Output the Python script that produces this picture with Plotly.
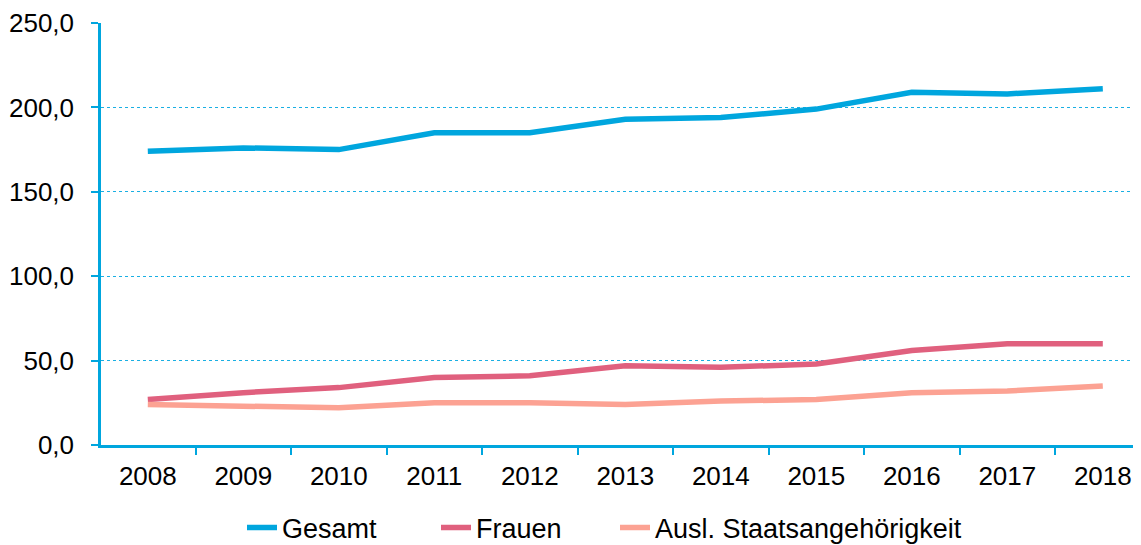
import plotly.graph_objects as go

years = ["2008", "2009", "2010", "2011", "2012", "2013", "2014", "2015", "2016", "2017", "2018"]
gesamt = [174, 176, 175, 185, 185, 193, 194, 199, 209, 208, 211]
frauen = [27, 31, 34, 40, 41, 47, 46, 48, 56, 60, 60]
ausl = [24, 23, 22, 25, 25, 24, 26, 27, 31, 32, 35]
y_ticks = [0, 50, 100, 150, 200, 250]

series = [
    ("Gesamt", gesamt, "#00A6DE", "legend", 234),
    ("Frauen", frauen, "#E0607E", "legend2", 428),
    ("Ausl. Staatsangehörigkeit", ausl, "#FCA293", "legend3", 607),
]

fig = go.Figure()
legends = {}
for name, vals, col, leg, lx in series:
    fig.add_trace(go.Scatter(x=years, y=vals, name=name, mode="lines", legend=leg,
                             line=dict(color=col, width=5.5)))
    legends[leg] = dict(orientation="h", xref="container", yref="container",
                        x=lx / 1141, xanchor="left", y=0.046, yanchor="middle",
                        font=dict(size=27), itemwidth=30, bgcolor="rgba(0,0,0,0)")

axis_col = "#00A6DE"
fig.update_layout(
    width=1141, height=545,
    margin=dict(l=93, r=8, t=15, b=108),
    paper_bgcolor="white", plot_bgcolor="white",
    font=dict(family="Liberation Sans, Arial, sans-serif", size=26, color="#000000"),
    separators=",.",
    showlegend=True,
    xaxis=dict(type="category", range=[-0.49, 10.4], tickson="boundaries",
               ticks="outside", ticklen=7, tickcolor=axis_col, tickwidth=2,
               showline=True, linecolor=axis_col, linewidth=2.5, automargin=False,
               showgrid=False, zeroline=False, ticklabelstandoff=6),
    yaxis=dict(range=[0, 250], tickvals=y_ticks, tickformat=".1f",
               ticks="outside", ticklen=7, tickcolor=axis_col, tickwidth=2,
               showline=True, linecolor=axis_col, linewidth=2.5, automargin=False,
               showgrid=True, gridcolor="#1AAFE3", gridwidth=1, griddash="dot",
               zeroline=False, ticklabelstandoff=12),
    **legends,
)

fig.write_html("out.html")
